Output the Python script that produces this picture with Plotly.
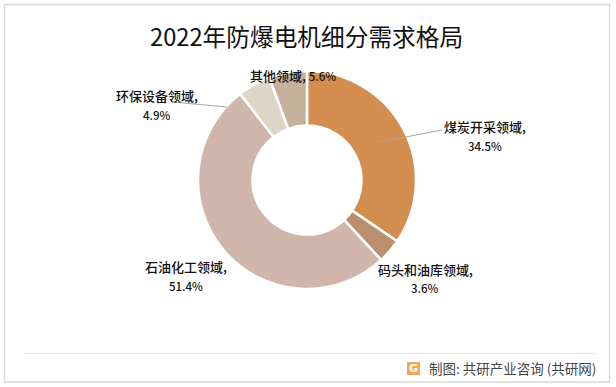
import plotly.graph_objects as go

W, H = 616, 387
categories = ["煤炭开采领域", "码头和油库领域", "石油化工领域", "环保设备领域", "其他领域"]
values = [34.5, 3.6, 51.4, 4.9, 5.6]
colors = ["#D38D4F", "#BB8F6E", "#D0B5AA", "#DDD6C6", "#C6B29A"]
title = "2022年防爆电机细分需求格局"
footer = "制图: 共研产业咨询 (共研网)"

FONT = "Noto Sans CJK SC"

def px(x): return x / W
def py(y): return 1 - y / H

cx, cy, r = 307, 180, 109

fig = go.Figure(go.Pie(
    labels=categories, values=values, sort=False, direction="clockwise", rotation=0,
    hole=0.5, textinfo="none", hoverinfo="label+percent",
    marker=dict(colors=colors, line=dict(color="white", width=2.5)),
    domain=dict(x=[px(cx - r), px(cx + r)], y=[py(cy + r), py(cy - r)]),
    showlegend=False,
))

labels = [
    (484.5, 126, "煤炭开采领域,", 13), (484.5, 146, "34.5%", 11.5),
    (425, 269, "码头和油库领域,", 13), (425, 288, "3.6%", 11.5),
    (186, 266, "石油化工领域,", 13), (186, 286, "51.4%", 11.5),
    (157, 95, "环保设备领域,", 13), (157, 115, "4.9%", 11.5),
    (292.5, 76, '其他领域, <span style="font-size:11.5px">5.6%</span>', 13),
]
anns = [dict(x=px(x), y=py(y), xref="paper", yref="paper", text=t, showarrow=False,
             font=dict(family=FONT, size=s, color="#111111", weight=500), xanchor="center", yanchor="middle")
        for x, y, t, s in labels]
anns.append(dict(x=px(306), y=py(36), xref="paper", yref="paper", text=title, showarrow=False,
                 font=dict(family=FONT, size=23.7, color="#111111"), xanchor="center", yanchor="middle"))
anns.append(dict(x=px(598), y=py(368), xref="paper", yref="paper", text=footer, showarrow=False,
                 font=dict(family=FONT, size=13.5, color="#444444"), xanchor="right", yanchor="middle"))
anns.append(dict(x=px(413.5), y=py(368.5), xref="paper", yref="paper", text="<b>G</b>", showarrow=False,
                 font=dict(family="DejaVu Sans", size=11, color="#FFFFFF"), xanchor="center", yanchor="middle"))

def rect(x0, y0, x1, y1, **kw):
    return dict(type="rect", xref="paper", yref="paper", x0=px(x0), x1=px(x1), y0=py(y0), y1=py(y1), **kw)

def line(x0, y0, x1, y1, color, width=1):
    return dict(type="line", xref="paper", yref="paper", x0=px(x0), x1=px(x1), y0=py(y0), y1=py(y1),
                line=dict(color=color, width=width))

shapes = [
    rect(4.5, 4.5, 609.5, 382, line=dict(color="#D9D9D9", width=1.5), fillcolor="rgba(0,0,0,0)"),
    line(24, 353.5, 597, 353.5, "#E6E6E6"),
    line(442, 130, 380, 142, "#A6A6A6"),
    line(172, 102, 227, 107, "#A6A6A6"),
    rect(407, 362, 420, 375, line=dict(width=0), fillcolor="#F5A65B", layer="below"),
]

fig.update_layout(
    width=W, height=H, margin=dict(l=0, r=0, t=0, b=0),
    paper_bgcolor="white", annotations=anns, shapes=shapes,
)
fig.write_html("out.html", config=dict(displayModeBar=False),
               post_script="document.body.style.margin='0';document.body.style.overflow='hidden';")
